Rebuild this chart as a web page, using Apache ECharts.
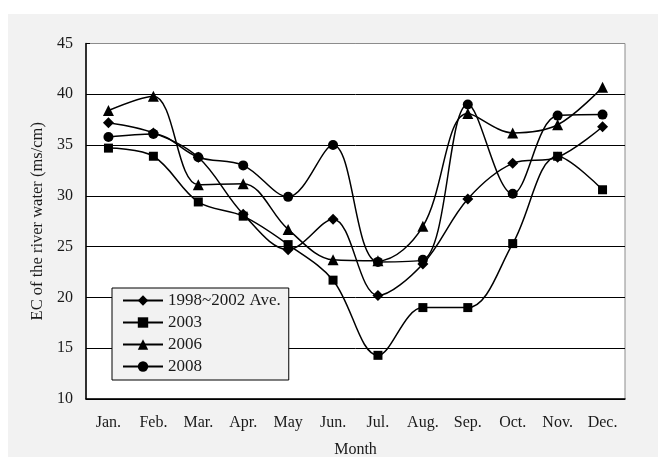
<!DOCTYPE html>
<html>
<head>
<meta charset="utf-8">
<style>
	html, body { margin: 0; padding: 0; background: #fff; }
	#chart { width: 658px; height: 459px; }
</style>
<script src="https://cdn.jsdelivr.net/npm/echarts@6/dist/echarts.min.js"></script>
</head>
<body>
<div id="chart"></div>
<script>
// months on the x axis
const months = ["Jan.", "Feb.", "Mar.", "Apr.", "May", "Jun.", "Jul.", "Aug.", "Sep.", "Oct.", "Nov.", "Dec."];

// EC values (ms/cm)
const avg9802 = [37.2, 36.2, 33.8, 28.2, 24.7, 27.7, 20.2, 23.3, 29.7, 33.2, 33.8, 36.8];
const y2003 = [34.7, 33.9, 29.4, 28.0, 25.2, 21.7, 14.3, 19.0, 19.0, 25.3, 33.9, 30.6];
const y2006 = [38.4, 39.8, 31.1, 31.2, 26.7, 23.7, 23.6, 27.0, 38.1, 36.2, 37.0, 40.7];
const y2008 = [35.8, 36.1, 33.8, 33.0, 29.9, 35.0, 23.5, 23.7, 39.0, 30.2, 37.9, 38.0];

const FONT = "'Liberation Serif', 'DejaVu Serif', serif";
const INK = "#1a1a1a";

const chart = echarts.init(document.getElementById("chart"), null, { renderer: "canvas" });

// shared look for the four black smoothed lines
const makeSeries = (name, data, symbol, size) => ({
	name,
	type: "line",
	data,
	smooth: 0.35,
	symbol,
	symbolSize: size,
	showAllSymbol: true,
	lineStyle: { color: "#000", width: 1.5 },
	itemStyle: { color: "#000" },
	emphasis: { disabled: true },
});

chart.setOption({
	backgroundColor: "#fff",
	animation: false,
	// light gray figure panel behind everything
	graphic: [{
		type: "rect",
		left: 8, top: 14,
		shape: { width: 650, height: 443 },
		style: { fill: "#f2f2f2" },
		z: -10,
		silent: true,
	}],
	grid: {
		left: 86, right: 33, top: 43.5, bottom: 60,
		show: true,
		backgroundColor: "#fff",
		borderColor: "#8c8c8c",
		borderWidth: 1,
		containLabel: false,
		outerBoundsMode: "none",
	},
	legend: {
		orient: "vertical",
		left: 112, top: 288,
		padding: [4, 8, 5, 10],
		itemGap: 5,
		itemWidth: 40,
		itemHeight: 13,
		backgroundColor: "#f2f2f2",
		borderColor: "#000",
		borderWidth: 1,
		textStyle: { fontFamily: FONT, fontSize: 17, color: INK },
		data: ["1998~2002 Ave.", "2003", "2006", "2008"],
	},
	xAxis: {
		type: "category",
		data: months,
		boundaryGap: true,
		name: "Month",
		nameLocation: "middle",
		nameGap: 43,
		nameTextStyle: { fontFamily: FONT, fontSize: 16, color: INK },
		axisLine: { lineStyle: { color: "#000", width: 1.5 } },
		axisTick: { inside: true, length: 4, lineStyle: { color: "#000" } },
		axisLabel: { interval: 0, margin: 16, fontFamily: FONT, fontSize: 16, color: INK },
		splitLine: { show: false },
	},
	yAxis: {
		type: "value",
		min: 10, max: 45, interval: 5,
		name: "EC of the river water (ms/cm)",
		nameLocation: "middle",
		nameGap: 40,
		nameTextStyle: { fontFamily: FONT, fontSize: 16.5, color: INK },
		axisLine: { show: true, lineStyle: { color: "#000", width: 1.5 } },
		axisTick: { show: true, inside: true, length: 4, lineStyle: { color: "#000" } },
		axisLabel: { margin: 13, fontFamily: FONT, fontSize: 16, color: INK },
		// top line (45) is the gray plot border, the rest are black
		splitLine: {
			lineStyle: {
				color: ["#000", "#000", "#000", "#000", "#000", "#000", "#000", "#8c8c8c"],
				width: 1,
			},
		},
	},
	series: [
		makeSeries("1998~2002 Ave.", avg9802, "diamond", 11),
		makeSeries("2003", y2003, "rect", 9),
		makeSeries("2006", y2006, "triangle", 11),
		makeSeries("2008", y2008, "circle", 10),
	],
});
</script>
</body>
</html>
